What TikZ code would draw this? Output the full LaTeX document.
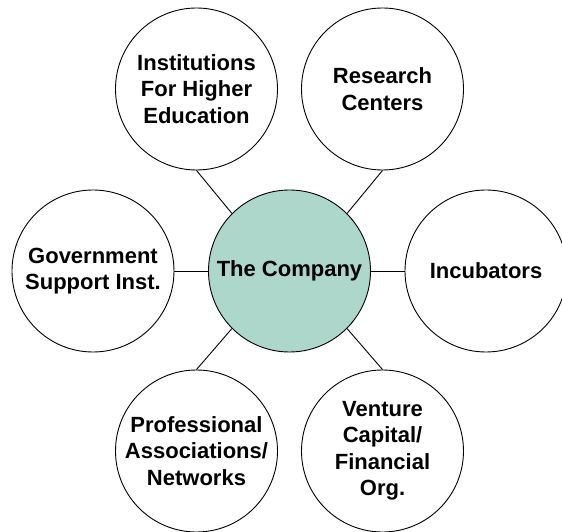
\documentclass[tikz,border=0pt]{standalone}
\usepackage{fontspec}
\setmainfont{Liberation Sans}
\usetikzlibrary{positioning}
\definecolor{hubgreen}{RGB}{173,215,203}
\begin{document}
\begin{tikzpicture}[x=1pt,y=1pt,node distance=182pt and 93pt,on grid,
        line width=0.9pt,
        main node/.style={circle,draw,minimum size=162pt,inner sep=0pt,align=center,
          font=\bfseries\fontsize{22}{26.5}\selectfont}]
        \useasboundingbox (-289.5,-261) rectangle (272.5,271);
        \node[main node,fill=hubgreen] (co) {The Company};
        \node[main node] (edu) [above left=of co] {Institutions\\For Higher\\Education};
        \node[main node] (res) [above right=of co] {Research\\Centers};
        \node[main node] (gov) [left=196.5pt of co] {Government\\Support Inst.};
        \node[main node] (inc) [right=196.5pt of co] {Incubators};
        \node[main node] (prof) [below left=180pt and 93pt of co] {Professional\\Associations/\\Networks};
        \node[main node] (ven) [below right=180pt and 93pt of co] {Venture\\Capital/\\Financial\\Org.};
        \path
        (co.135) edge (edu.south)
        (co.45) edge (res.south)
        (co.west) edge (gov.east)
        (co.east) edge (inc.west)
        (co.225) edge (prof.north)
        (co.315) edge (ven.north)
        ;
\end{tikzpicture}
\end{document}
